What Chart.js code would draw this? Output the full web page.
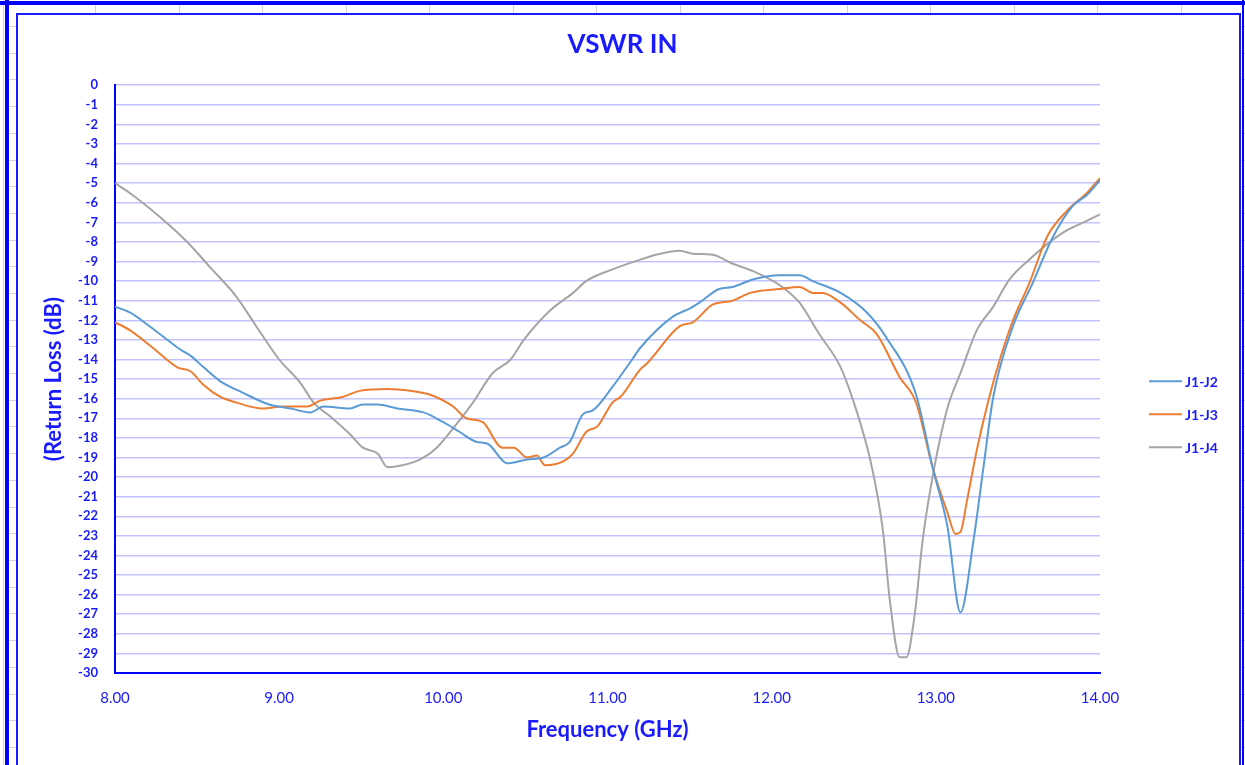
<!DOCTYPE html>
<html>
<head>
<meta charset="utf-8">
<script src="https://cdn.jsdelivr.net/npm/chart.js@4.4.1/dist/chart.umd.min.js"></script>
<style>
  html, body { margin: 0; padding: 0; background: #ffffff; }
  body { width: 1245px; height: 765px; position: relative; overflow: hidden; }
  #sheet { position: absolute; left: 0; top: 0; width: 1245px; height: 765px; }
  .g { position: absolute; background: #d4d4d4; }
  .b { position: absolute; background: #0000ff; }
  #frame { position: absolute; left: 16px; top: 13px; width: 1221px; height: 760px; border: 2px solid #1a1aff; background: #ffffff; }
  #c { position: absolute; left: 0; top: 0; }
</style>
</head>
<body>
<div id="sheet"></div>
<div id="frame"></div>
<canvas id="c" width="1245" height="765"></canvas>
<script>
// ---------------- data ----------------
const seriesNames = ['J1-J2', 'J1-J3', 'J1-J4'];

const freqJ2 = [8.0, 8.09, 8.21, 8.40, 8.46, 8.54, 8.64, 8.78, 8.94, 9.07, 9.19, 9.27, 9.43, 9.51, 9.60, 9.72, 9.88, 10.0, 10.1, 10.2, 10.27, 10.39, 10.51, 10.61, 10.71, 10.77, 10.85, 10.91, 11.03, 11.15, 11.2, 11.4, 11.5, 11.56, 11.68, 11.76, 11.89, 12.05, 12.17, 12.25, 12.42, 12.58, 12.70, 12.88, 12.98, 13.07, 13.15, 13.23, 13.29, 13.35, 13.47, 13.59, 13.71, 13.83, 13.92, 14.0];
const rlJ2   = [-11.3, -11.6, -12.3, -13.5, -13.8, -14.4, -15.1, -15.7, -16.3, -16.5, -16.7, -16.4, -16.5, -16.3, -16.3, -16.5, -16.7, -17.2, -17.7, -18.2, -18.3, -19.3, -19.1, -19.0, -18.5, -18.2, -16.8, -16.6, -15.4, -14.0, -13.4, -11.8, -11.4, -11.1, -10.4, -10.3, -9.9, -9.7, -9.7, -10.0, -10.6, -11.6, -12.9, -15.8, -19.5, -22.5, -26.9, -23.2, -19.5, -15.9, -12.3, -10.1, -7.8, -6.2, -5.6, -4.85];

const freqJ3 = [8.0, 8.09, 8.23, 8.38, 8.46, 8.54, 8.64, 8.74, 8.90, 9.02, 9.17, 9.25, 9.39, 9.49, 9.66, 9.80, 9.92, 10.06, 10.14, 10.24, 10.36, 10.43, 10.51, 10.57, 10.62, 10.73, 10.79, 10.87, 10.94, 11.03, 11.08, 11.2, 11.24, 11.44, 11.52, 11.64, 11.76, 11.87, 12.05, 12.17, 12.25, 12.31, 12.42, 12.54, 12.64, 12.78, 12.88, 12.98, 13.07, 13.12, 13.15, 13.19, 13.25, 13.32, 13.39, 13.47, 13.57, 13.68, 13.80, 13.92, 14.0];
const rlJ3   = [-12.1, -12.5, -13.4, -14.4, -14.6, -15.3, -15.9, -16.2, -16.5, -16.4, -16.4, -16.1, -15.9, -15.6, -15.5, -15.6, -15.8, -16.4, -17.0, -17.2, -18.5, -18.5, -19.0, -18.9, -19.4, -19.2, -18.8, -17.7, -17.4, -16.2, -15.9, -14.5, -14.2, -12.3, -12.1, -11.2, -11.0, -10.6, -10.4, -10.3, -10.6, -10.6, -11.1, -12.0, -12.7, -14.9, -16.2, -19.5, -21.8, -22.9, -22.8, -21.2, -18.6, -16.1, -14.0, -12.0, -10.1, -7.7, -6.4, -5.5, -4.75];

const freqJ4 = [8.0, 8.09, 8.27, 8.44, 8.58, 8.74, 8.86, 9.0, 9.13, 9.21, 9.31, 9.43, 9.51, 9.60, 9.66, 9.75, 9.86, 9.96, 10.08, 10.18, 10.30, 10.41, 10.49, 10.65, 10.79, 10.87, 11.03, 11.2, 11.32, 11.44, 11.52, 11.64, 11.76, 11.89, 12.03, 12.11, 12.17, 12.29, 12.42, 12.52, 12.60, 12.65, 12.68, 12.72, 12.78, 12.82, 12.87, 12.92, 12.98, 13.07, 13.15, 13.25, 13.35, 13.45, 13.57, 13.68, 13.8, 13.9, 14.0];
const rlJ4   = [-5.0, -5.5, -6.7, -8.0, -9.3, -10.8, -12.3, -14.0, -15.2, -16.2, -16.9, -17.8, -18.5, -18.8, -19.5, -19.4, -19.1, -18.5, -17.3, -16.2, -14.7, -14.0, -13.0, -11.5, -10.6, -10.0, -9.4, -8.9, -8.6, -8.45, -8.6, -8.65, -9.1, -9.5, -10.1, -10.6, -11.1, -12.7, -14.4, -16.7, -19.1, -21.2, -22.9, -26.3, -29.2, -29.2, -27.1, -23.2, -20.0, -16.5, -14.7, -12.5, -11.3, -9.9, -8.9, -8.1, -7.4, -7.0, -6.6];

const xTickValues = [8, 9, 10, 11, 12, 13, 14];
const yTickMin = -30, yTickMax = 0;
const seriesColors = ['#5B9BD5', '#ED7D31', '#A5A5A5'];

// ---------------- spreadsheet decoration ----------------
(function () {
  const sheet = document.getElementById('sheet');
  function add(cls, l, t, w, h) {
    const d = document.createElement('div');
    d.className = cls;
    d.style.left = l + 'px'; d.style.top = t + 'px';
    d.style.width = w + 'px'; d.style.height = h + 'px';
    sheet.appendChild(d);
  }
  for (let x = 95; x < 1245; x += 83.5) add('g', Math.round(x), 4, 1, 10);
  for (let y = 26; y < 765; y += 26.7) { add('g', 9, Math.round(y), 8, 1); add('g', 1238, Math.round(y), 7, 1); }
  add('g', 3, 0, 1, 765);
  add('b', 0, 1, 1245, 4);
  add('b', 5, 0, 4, 765);
  add('b', 1242, 0, 2, 765);
})();

// ---------------- chart ----------------
const toPts = (xs, ys) => xs.map((x, i) => ({ x: x, y: ys[i] }));
const datasets = [toPts(freqJ2, rlJ2), toPts(freqJ3, rlJ3), toPts(freqJ4, rlJ4)].map((pts, i) => ({
  label: seriesNames[i],
  data: pts,
  borderColor: seriesColors[i],
  backgroundColor: seriesColors[i],
  borderWidth: 2,
  pointRadius: 0,
  cubicInterpolationMode: 'monotone',
  fill: false
}));

const blue = '#1a1aff';
const fam = 'Lato, "Open Sans", "DejaVu Sans", sans-serif';

const legendPlugin = {
  id: 'sideLegend',
  afterDraw(chart) {
    const ctx = chart.ctx;
    const a = chart.chartArea;
    ctx.save();
    chart.data.datasets.forEach((ds, i) => {
      const y = a.top + 296 + i * 33;
      ctx.strokeStyle = ds.borderColor;
      ctx.lineWidth = 2;
      ctx.beginPath();
      ctx.moveTo(a.right + 49, y);
      ctx.lineTo(a.right + 82, y);
      ctx.stroke();
      ctx.fillStyle = blue;
      ctx.font = 'bold 14px ' + fam;
      ctx.textBaseline = 'middle';
      ctx.textAlign = 'left';
      ctx.fillText(ds.label, a.right + 85, y + 1);
    });
    ctx.restore();
  }
};

new Chart(document.getElementById('c'), {
  type: 'line',
  data: { datasets: datasets },
  plugins: [legendPlugin],
  options: {
    responsive: false,
    animation: false,
    layout: { padding: { left: 0, right: 0, top: 0, bottom: 0 } },
    plugins: {
      legend: { display: false },
      tooltip: { enabled: false },
      title: {
        display: true,
        text: 'VSWR IN',
        color: blue,
        font: { family: fam, size: 26, weight: 'bold' },
        padding: { top: 29, bottom: 25 }
      }
    },
    scales: {
      x: {
        type: 'linear',
        min: 8, max: 14,
        afterBuildTicks: (s) => { s.ticks = xTickValues.map(v => ({ value: v })); },
        afterFit: (s) => { s.height = 92; },
        grid: { display: false, drawTicks: false },
        border: { display: true, color: '#0000ff', width: 2 },
        ticks: {
          color: blue,
          padding: 16,
          font: { family: fam, size: 15 },
          callback: (v) => Number(v).toFixed(2)
        },
        title: {
          display: true,
          text: 'Frequency (GHz)',
          color: blue,
          font: { family: fam, size: 22, weight: 'bold' },
          padding: { top: 0, bottom: 22 }
        }
      },
      y: {
        min: yTickMin, max: yTickMax,
        afterFit: (s) => { s.width = 115; },
        grid: { color: '#c2c2ff', lineWidth: 1.5, drawTicks: false },
        border: { display: true, color: '#0000ff', width: 2 },
        ticks: {
          stepSize: 1,
          autoSkip: false,
          color: blue,
          padding: 17,
          font: { family: fam, size: 13, weight: 'bold' }
        },
        title: {
          display: true,
          text: '(Return Loss (dB)',
          color: blue,
          font: { family: fam, size: 22, weight: 'bold' },
          padding: { top: 41, bottom: 0 }
        }
      },
      legendSpace: {
        position: 'right',
        min: 0, max: 1,
        afterFit: (s) => { s.width = 145; },
        grid: { display: false, drawTicks: false },
        border: { display: false },
        ticks: { display: false }
      }
    }
  }
});
</script>
</body>
</html>
